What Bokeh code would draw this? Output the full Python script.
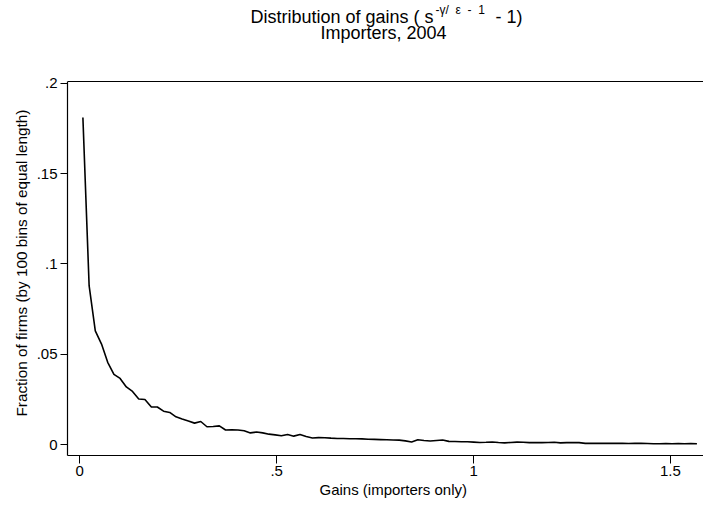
from bokeh.plotting import figure
from bokeh.models import Range1d, FixedTicker, Label, Span, Title
from bokeh.embed import file_html
from bokeh.resources import INLINE

# Bin midpoints (100 bins of equal length) of gains, importers only
gains = [0.0079, 0.0237, 0.0394, 0.0552, 0.0709, 0.0867, 0.1024, 0.1182, 0.1339, 0.1497,
         0.1654, 0.1812, 0.1969, 0.2127, 0.2284, 0.2442, 0.2599, 0.2757, 0.2914, 0.3072,
         0.3229, 0.3387, 0.3544, 0.3702, 0.3859, 0.4017, 0.4174, 0.4332, 0.4489, 0.4647,
         0.4804, 0.4962, 0.5119, 0.5277, 0.5434, 0.5592, 0.5749, 0.5907, 0.6064, 0.6222,
         0.6379, 0.6537, 0.6694, 0.6852, 0.7009, 0.7167, 0.7324, 0.7482, 0.7639, 0.7797,
         0.7954, 0.8112, 0.8269, 0.8427, 0.8584, 0.8742, 0.8899, 0.9057, 0.9214, 0.9372,
         0.9529, 0.9687, 0.9844, 1.0002, 1.0159, 1.0317, 1.0474, 1.0632, 1.0789, 1.0947,
         1.1104, 1.1262, 1.1419, 1.1577, 1.1734, 1.1892, 1.2049, 1.2207, 1.2364, 1.2522,
         1.2679, 1.2837, 1.2994, 1.3152, 1.3309, 1.3467, 1.3624, 1.3782, 1.3939, 1.4097,
         1.4254, 1.4412, 1.4569, 1.4727, 1.4884, 1.5042, 1.5199, 1.5357, 1.5514, 1.5672]

# Fraction of firms in each bin
fraction = [0.181, 0.088, 0.063, 0.0557, 0.0456, 0.039, 0.0367, 0.032, 0.0295, 0.0253,
            0.0251, 0.021, 0.0209, 0.0186, 0.0179, 0.0155, 0.0143, 0.0132, 0.012, 0.0129,
            0.0100, 0.0101, 0.0105, 0.0082, 0.0083, 0.0082, 0.0078, 0.0066, 0.0071, 0.0066,
            0.0059, 0.0055, 0.0050, 0.0057, 0.0048, 0.0057, 0.0046, 0.0038, 0.0040, 0.0039,
            0.0037, 0.0035, 0.0035, 0.0034, 0.0034, 0.0033, 0.0031, 0.0030, 0.0029, 0.0028,
            0.0027, 0.0026, 0.0022, 0.0016, 0.0028, 0.0024, 0.0021, 0.0024, 0.0027, 0.0019,
            0.0018, 0.0017, 0.0017, 0.0015, 0.0013, 0.0014, 0.0016, 0.0013, 0.0011, 0.0013,
            0.0015, 0.0014, 0.0012, 0.0013, 0.0012, 0.0013, 0.0014, 0.0011, 0.0012, 0.0013,
            0.0012, 0.0008, 0.0008, 0.0009, 0.0008, 0.0008, 0.0009, 0.0008, 0.0007, 0.0009,
            0.0008, 0.0007, 0.0006, 0.0006, 0.0007, 0.0006, 0.0007, 0.0006, 0.0007, 0.0006]

x_ticks = [0, 0.5, 1, 1.5]
x_tick_labels = ["0", ".5", "1", "1.5"]
y_ticks = [0, 0.05, 0.1, 0.15, 0.2]
y_tick_labels = ["0", ".05", ".1", ".15", ".2"]

title_main = "Distribution of gains ( s"
title_sup = "-\u03b3/ \u00a0\u03b5 \u00a0- \u00a01"
title_end = "- 1)"
subtitle = "Importers, 2004"
x_title = "Gains (importers only)"
y_title = "Fraction of firms (by 100 bins of equal length)"

FONT = "Liberation Sans"

# layout (pixels on the 703x506 canvas)
W, H = 703, 506
F_LEFT, PLOT_TOP, F_BOTTOM = 67, 81, 455
X0, X1 = -0.0312, 1.5839
Y0, Y1 = -0.0059, 0.2009            # visible plot region (bottom .. top border)
YTOP = Y1 + PLOT_TOP * (Y1 - Y0) / (F_BOTTOM - PLOT_TOP)   # frame reaches canvas top


def dx(cx):
    return X0 + (cx - F_LEFT) * (X1 - X0) / (W - F_LEFT)


def dy(cy):
    return YTOP - cy * (YTOP - Y0) / F_BOTTOM


p = figure(width=W, height=H, output_backend="svg", toolbar_location=None, title=None,
           x_range=Range1d(X0, X1), y_range=Range1d(Y0, YTOP),
           min_border_left=F_LEFT, min_border_right=0, min_border_top=0,
           min_border_bottom=H - F_BOTTOM)

p.line(gains, fraction, line_color="black", line_width=1.6)

p.xgrid.visible = False
p.ygrid.visible = False
p.outline_line_color = None
p.background_fill_color = "white"
p.border_fill_color = "white"

xa = p.xaxis[0]
xa.ticker = FixedTicker(ticks=x_ticks)
xa.major_label_overrides = {t: l for t, l in zip(x_ticks, x_tick_labels)}
xa.major_tick_out = 8
xa.major_label_standoff = 2

ya = p.yaxis[0]
ya.ticker = FixedTicker(ticks=y_ticks)
ya.major_label_overrides = {t: l for t, l in zip(y_ticks, y_tick_labels)}
ya.bounds = (Y0, Y1)
ya.major_tick_out = 7
ya.major_label_standoff = 3

for ax in (xa, ya):
    ax.major_tick_in = 0
    ax.minor_tick_out = 0
    ax.minor_tick_in = 0
    ax.axis_line_color = "black"
    ax.axis_line_width = 1.2
    ax.major_tick_line_color = "black"
    ax.major_label_text_font = FONT
    ax.major_label_text_font_size = "15px"
    ax.major_label_text_color = "black"

# axis titles
p.add_layout(Title(text=x_title, align="left", offset=252, standoff=0,
                   text_font=FONT, text_font_size="15px", text_font_style="normal",
                   text_color="black"), "below")
p.add_layout(Title(text=y_title, align="left", offset=39, standoff=8,
                   text_font=FONT, text_font_size="15.3px", text_font_style="normal",
                   text_color="black"), "left")

# top border of the plot region
p.add_layout(Span(location=Y1, dimension="width", line_color="black", line_width=1.2))


def add_text(text, cx, cy, size, align):
    p.add_layout(Label(x=dx(cx), y=dy(cy), text=text, text_font=FONT,
                       text_font_size=size, text_align=align,
                       text_baseline="alphabetic", text_color="black"))


add_text(title_main, 433, 16, "18px", "right")
add_text(title_sup, 435, 9, "12px", "left")
add_text(title_end, 495, 16, "18px", "left")
add_text(subtitle, 383, 32, "18px", "center")

open("out.html", "w").write(file_html(p, INLINE))
